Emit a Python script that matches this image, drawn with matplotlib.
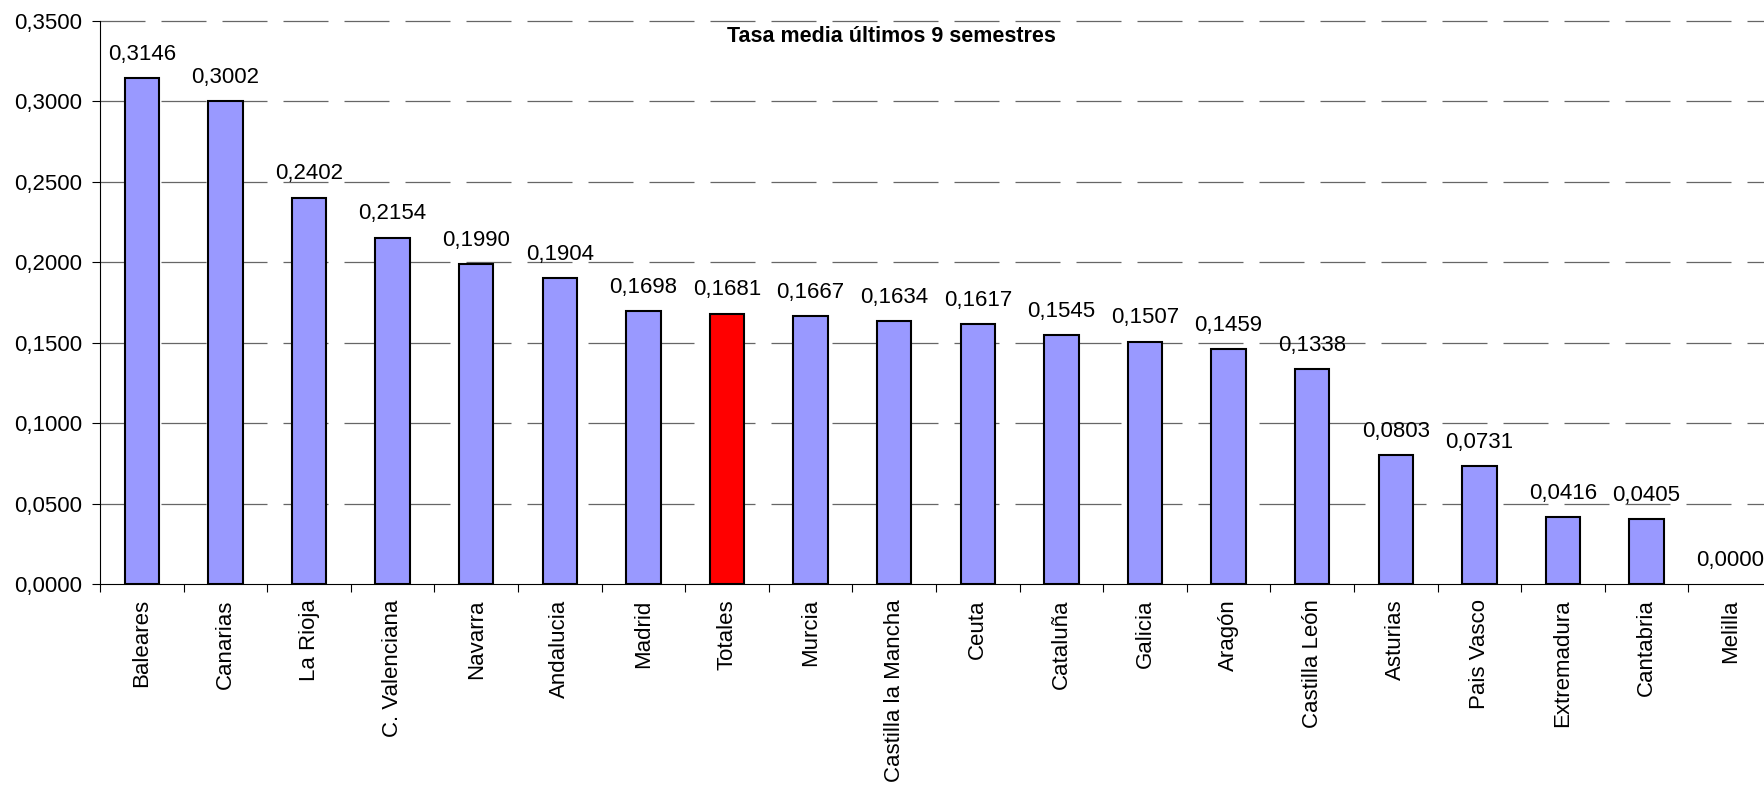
import matplotlib.pyplot as plt
import numpy as np

plt.rcParams['font.family'] = ['Liberation Sans', 'DejaVu Sans']

# datos: tasa media de los ultimos 9 semestres
comunidades = ['Baleares', 'Canarias', 'La Rioja', 'C. Valenciana', 'Navarra',
               'Andalucia', 'Madrid', 'Totales', 'Murcia', 'Castilla la Mancha',
               'Ceuta', 'Cataluña', 'Galicia', 'Aragón', 'Castilla León',
               'Asturias', 'Pais Vasco', 'Extremadura', 'Cantabria', 'Melilla']
tasas = [0.3146, 0.3002, 0.2402, 0.2154, 0.1990, 0.1904, 0.1698, 0.1681,
         0.1667, 0.1634, 0.1617, 0.1545, 0.1507, 0.1459, 0.1338, 0.0803,
         0.0731, 0.0416, 0.0405, 0.0000]
yticks = [0.0, 0.05, 0.10, 0.15, 0.20, 0.25, 0.30, 0.35]
titulo = 'Tasa media últimos 9 semestres'

W, H = 1764, 786
fig = plt.figure(figsize=(W / 100, H / 100), dpi=100)
ax = fig.add_axes([100 / W, 202 / H, 1672 / W, 563 / H])

x = np.arange(len(comunidades))
colores = ['#FF0000' if c == 'Totales' else '#9999FF' for c in comunidades]
bordes = [1.5 if v > 0 else 0 for v in tasas]
ax.bar(x, tasas, width=0.41, color=colores, edgecolor='black', linewidth=bordes, zorder=3)

for xi, v in zip(x, tasas):
    ax.annotate(f'{v:.4f}'.replace('.', ','), (xi, v), xytext=(0, 9.5),
                textcoords='offset points', ha='center', va='bottom',
                fontsize=16, annotation_clip=False)

ax.set_xlim(-0.5, len(comunidades) - 0.5)
ax.set_ylim(0, 0.35)

ax.set_yticks(yticks)
ax.set_yticklabels([f'{t:.4f}'.replace('.', ',') for t in yticks], fontsize=16)
ax.tick_params(axis='y', length=6, width=0.8, pad=7)

ax.set_xticks(x)
ax.set_xticklabels(comunidades, rotation=90, fontsize=16)
ax.tick_params(axis='x', which='major', length=0, pad=11)
ax.set_xticks(np.arange(len(comunidades) + 1) - 0.5, minor=True)
ax.tick_params(axis='x', which='minor', length=6, width=0.8)

for t in yticks[1:]:
    ax.axhline(t, color='#666666', lw=0.9, linestyle=(0, (36, 12.8)), zorder=1, clip_on=False)

for s in ['top', 'right']:
    ax.spines[s].set_visible(False)
ax.spines['left'].set_linewidth(0.8)
ax.spines['bottom'].set_linewidth(0.8)

fig.text(891 / W, 1 - 37 / H, titulo, ha='center', va='center',
         fontsize=15.5, fontweight='bold')

fig.savefig('out.png', dpi=100)
